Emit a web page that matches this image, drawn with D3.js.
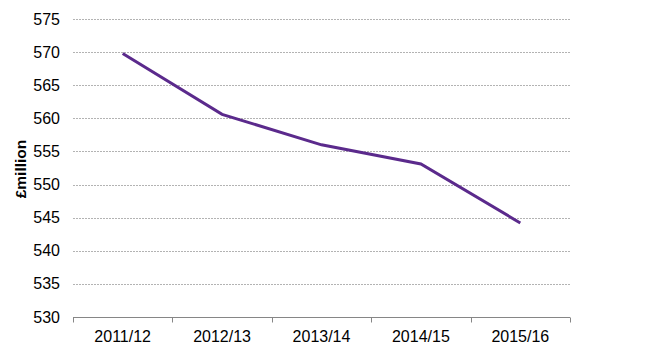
<!DOCTYPE html>
<html>
<head>
<meta charset="utf-8">
<script src="https://cdn.jsdelivr.net/npm/d3@7"></script>
<style>
  body { margin: 0; background: #fff; }
  svg { font-family: "Liberation Sans", Arial, sans-serif; }
</style>
</head>
<body>
<div id="chart"></div>
<script>
// Data
const years = ["2011/12", "2012/13", "2013/14", "2014/15", "2015/16"];
const spend = [569.8, 560.6, 556.0, 553.1, 544.2];
const yTicks = [530, 535, 540, 545, 550, 555, 560, 565, 570, 575];

const W = 656, H = 364;
const margin = {top: 19, right: 86, bottom: 47, left: 73};
const width = W - margin.left - margin.right;
const height = H - margin.top - margin.bottom;

const svg = d3.select("#chart").append("svg")
  .attr("width", W)
  .attr("height", H);

const g = svg.append("g")
  .attr("transform", `translate(${margin.left},${margin.top})`);

const x = d3.scaleBand().domain(years).range([0, width]);
const y = d3.scaleLinear().domain([530, 575]).range([height, 0]);

// dashed gridlines
g.selectAll(".grid")
  .data(yTicks.filter(d => d > 530))
  .join("line")
  .attr("x1", 0)
  .attr("x2", width)
  .attr("y1", d => Math.round(y(d)) + 0.5)
  .attr("y2", d => Math.round(y(d)) + 0.5)
  .attr("stroke", "#b3b3b3")
  .attr("stroke-dasharray", "2,1");

// y tick labels (no axis line)
g.selectAll(".ylab")
  .data(yTicks)
  .join("text")
  .attr("x", -13)
  .attr("y", d => y(d))
  .attr("dy", "0.35em")
  .attr("text-anchor", "end")
  .attr("font-size", 16)
  .attr("fill", "#000")
  .text(d => d);

// x axis line with ticks at band edges
const xAxis = g.append("g").attr("transform", `translate(0,${Math.round(height) + 0.5})`);
xAxis.append("line")
  .attr("x1", 0).attr("x2", width)
  .attr("stroke", "#868686");
const edges = years.map(d => x(d)).concat([width]);
xAxis.selectAll(".tick")
  .data(edges)
  .join("line")
  .attr("x1", d => Math.round(d) + 0.5)
  .attr("x2", d => Math.round(d) + 0.5)
  .attr("y1", 0).attr("y2", 5)
  .attr("stroke", "#868686");
xAxis.selectAll(".xlab")
  .data(years)
  .join("text")
  .attr("x", d => x(d) + x.bandwidth() / 2)
  .attr("y", 24)
  .attr("text-anchor", "middle")
  .attr("font-size", 16)
  .attr("fill", "#000")
  .text(d => d);

// y axis title
svg.append("text")
  .attr("transform", `translate(26,${margin.top + height / 2 + 1}) rotate(-90)`)
  .attr("text-anchor", "middle")
  .attr("font-size", 15.5)
  .attr("font-weight", "bold")
  .text("£million");

// line
const line = d3.line()
  .x((d, i) => x(years[i]) + x.bandwidth() / 2)
  .y(d => y(d));

g.append("path")
  .datum(spend)
  .attr("fill", "none")
  .attr("stroke", "#5b2a8c")
  .attr("stroke-width", 3)
  .attr("d", line);
</script>
</body>
</html>
